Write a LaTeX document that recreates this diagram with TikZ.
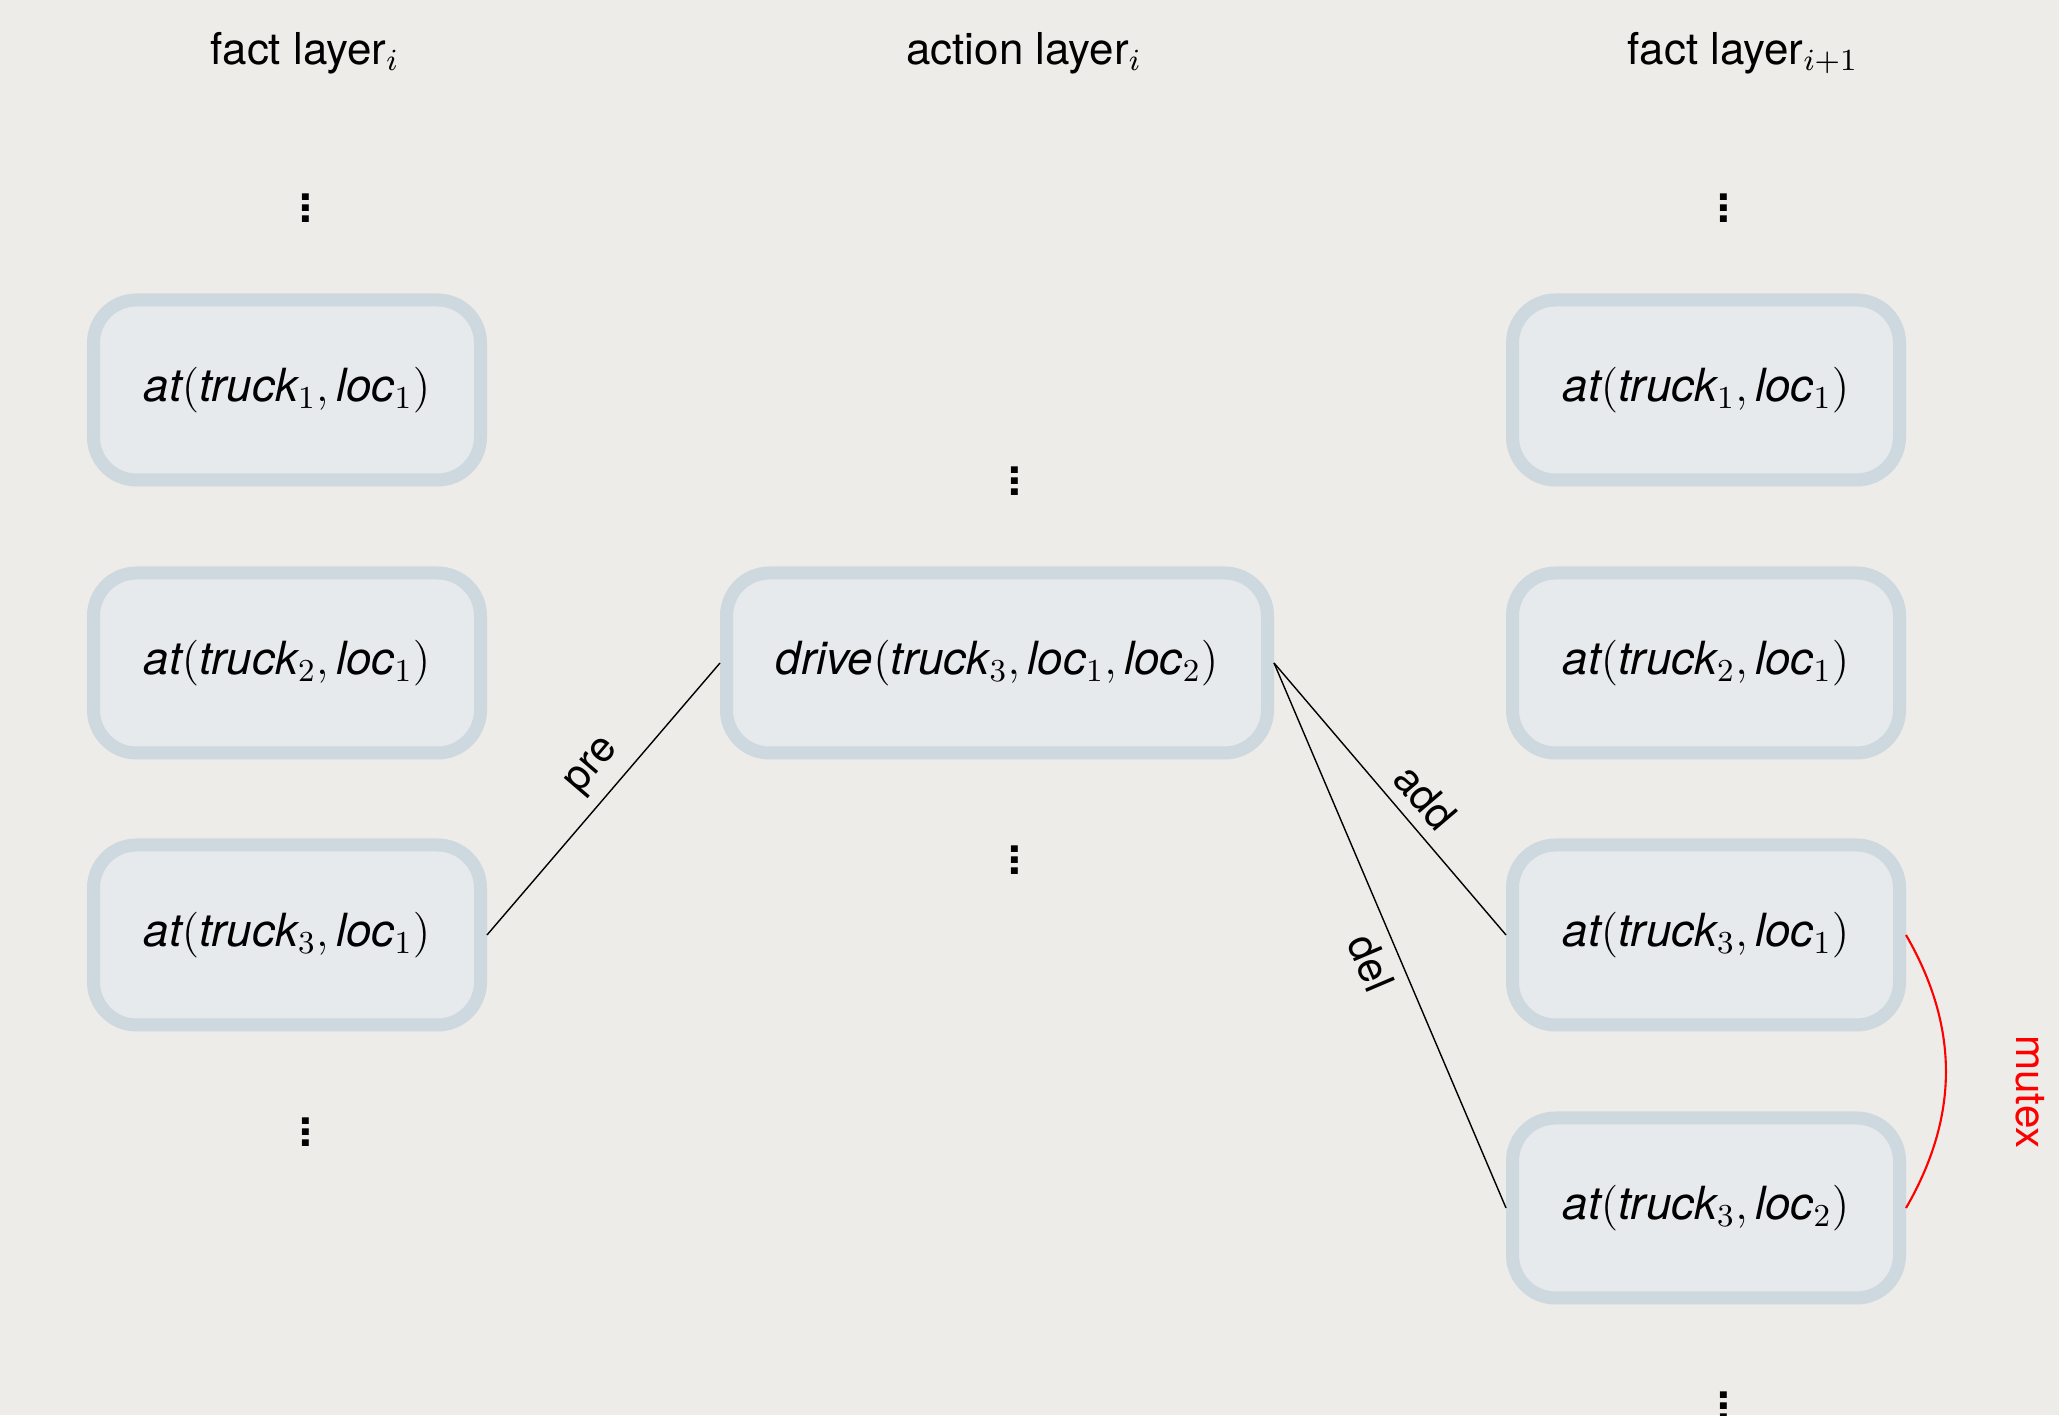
\RequirePackage{fix-cm}
\documentclass[tikz,border=0pt]{standalone}
\usepackage{fontspec}
\setmainfont{TeX Gyre Heros}
\definecolor{bgcol}{RGB}{237,236,232}
\definecolor{boxfill}{RGB}{230,234,237}
\definecolor{boxline}{RGB}{205,216,223}
\newcommand{\layerdots}{\vbox{\baselineskip=3.1pt\hbox{.}\hbox{.}\hbox{.}}}
\begin{document}
\begin{tikzpicture}[
   factbox/.style={rectangle, rounded corners=0.43cm, fill=boxfill, draw=boxline, line width=0.13cm, minimum width=3.87cm, minimum height=1.8cm, font=\fontsize{13}{16}\selectfont},
   actionbox/.style={factbox, minimum width=5.41cm},
   dotsnode/.style={inner sep=0pt, font=\fontsize{13}{16}\selectfont\bfseries},
   layertitle/.style={font=\fontsize{12.5}{15}\selectfont},
   edgelabel/.style={font=\fontsize{12}{15}\selectfont}]
   \useasboundingbox[fill=bgcol] (0,0) rectangle (20.59,14.15);
   % layer titles
   \node[layertitle] (ti) at (3.05,13.62) {fact layer$_i$};
   \node[layertitle] (ta) at (10.24,13.62) {action layer$_i$};
   \node[layertitle] (tj) at (17.43,13.62) {fact layer$_{i+1}$};
   % fact layer i
   \node[factbox] (li1) at (2.87,10.25) {$\textit{at}(\textit{truck}_1, \textit{loc}_1)$};
   \node[factbox] (li2) at (2.87,7.52) {$\textit{at}(\textit{truck}_2, \textit{loc}_1)$};
   \node[factbox] (li3) at (2.87,4.80) {$\textit{at}(\textit{truck}_3, \textit{loc}_1)$};
   \node[dotsnode] (di1) at (3.06,12.07) {\layerdots};
   \node[dotsnode] (di2) at (3.06,2.83) {\layerdots};
   % action layer i
   \node[actionbox] (act) at (9.97,7.52) {$\textit{drive}(\textit{truck}_3, \textit{loc}_1, \textit{loc}_2)$};
   \node[dotsnode] (da1) at (10.15,9.34) {\layerdots};
   \node[dotsnode] (da2) at (10.15,5.55) {\layerdots};
   % fact layer i+1
   \node[factbox] (lj1) at (17.06,10.25) {$\textit{at}(\textit{truck}_1, \textit{loc}_1)$};
   \node[factbox] (lj2) at (17.06,7.52) {$\textit{at}(\textit{truck}_2, \textit{loc}_1)$};
   \node[factbox] (lj3) at (17.06,4.80) {$\textit{at}(\textit{truck}_3, \textit{loc}_1)$};
   \node[factbox] (lj4) at (17.06,2.07) {$\textit{at}(\textit{truck}_3, \textit{loc}_2)$};
   \node[dotsnode] (dj1) at (17.24,12.07) {\layerdots};
   \node[dotsnode] (dj2) at (17.24,0.09) {\layerdots};
   % edges
   \draw[line width=0.4pt] (li3.east) -- node[pos=0.55, sloped, above, edgelabel] {pre} (act.west);
   \draw[line width=0.4pt] (act.east) -- node[pos=0.56, sloped, above, edgelabel] {add} (lj3.west);
   \draw[line width=0.4pt] (act.east) -- node[pos=0.53, sloped, below, edgelabel] {del} (lj4.west);
   \draw[red, line width=0.6pt] (lj3.east) to[bend left=30] (lj4.east);
   \node[red, rotate=-90, edgelabel] (mx) at (20.30,3.23) {mutex};
\end{tikzpicture}
\end{document}
